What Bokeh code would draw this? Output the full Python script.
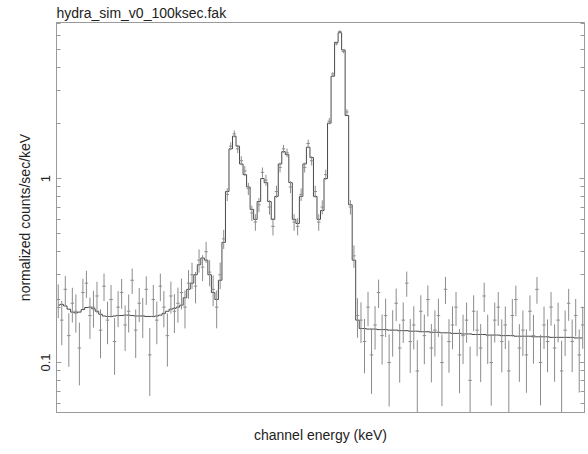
import numpy as np
from bokeh.plotting import figure
from bokeh.models import Range1d, FixedTicker, LogAxis, ColumnDataSource
from bokeh.embed import file_html
from bokeh.resources import INLINE

# ---- data (channel bins, keV) ----
e_start = 0.5
bin_width = 0.007

model_soft = [0.205, 0.207, 0.203, 0.195, 0.188, 0.186, 0.188, 0.194, 0.199, 0.2,
              0.196, 0.19, 0.183, 0.179, 0.178, 0.178, 0.179, 0.18, 0.18, 0.181,
              0.181, 0.18, 0.179, 0.179, 0.179, 0.178, 0.178, 0.178, 0.179, 0.181,
              0.185, 0.19, 0.195, 0.197,
              0.2, 0.205, 0.225, 0.25, 0.27, 0.3, 0.34, 0.37, 0.36, 0.3, 0.24, 0.22, 0.28]
model_lines = [0.45, 0.85, 1.45, 1.7, 1.5, 1.2, 1.05, 0.9, 0.68, 0.6,
               0.75, 1.0, 0.95, 0.75, 0.6, 0.8, 1.2, 1.4, 1.35, 0.95,
               0.6, 0.57, 0.8, 1.2, 1.48, 1.3, 0.8, 0.6, 0.67, 1.0,
               2.0, 3.6, 5.5, 6.2, 5.0, 2.2, 0.72, 0.36, 0.17]
model_hard = [0.153, 0.153, 0.152, 0.152, 0.152, 0.151, 0.151, 0.151, 0.150, 0.150,
              0.150, 0.149, 0.149, 0.149, 0.148, 0.148, 0.148, 0.147, 0.147, 0.147,
              0.146, 0.146, 0.146, 0.145, 0.145, 0.145, 0.144, 0.144, 0.144, 0.143,
              0.143, 0.143, 0.142, 0.142, 0.142, 0.142, 0.141, 0.141, 0.141, 0.141,
              0.140, 0.140, 0.140, 0.140, 0.139, 0.139, 0.139, 0.139, 0.139, 0.138,
              0.138, 0.138, 0.138, 0.138, 0.137, 0.137, 0.137, 0.137, 0.137, 0.137,
              0.137, 0.136, 0.136, 0.136]

data_soft = [0.22, 0.17, 0.25, 0.14, 0.21, 0.19, 0.12, 0.24, 0.27, 0.18,
             0.2, 0.23, 0.15, 0.26, 0.17, 0.22, 0.13, 0.2, 0.24, 0.16,
             0.19, 0.28, 0.15, 0.21, 0.18, 0.25, 0.11, 0.22, 0.17, 0.26,
             0.2, 0.14, 0.23, 0.19,
             0.21, 0.24, 0.2, 0.27, 0.3, 0.26, 0.36, 0.33, 0.4, 0.31, 0.25, 0.2, 0.3]
data_lines = [0.47, 0.82, 1.5, 1.75, 1.45, 1.25, 1.1, 0.88, 0.65, 0.58,
              0.72, 1.08, 0.98, 0.7, 0.55, 0.85, 1.15, 1.45, 1.38, 0.9,
              0.58, 0.55, 0.82, 1.15, 1.55, 1.25, 0.85, 0.58, 0.7, 1.05,
              2.05, 3.7, 5.4, 6.3, 4.9, 2.3, 0.7, 0.38, 0.18]
data_hard = [0.17, 0.13, 0.2, 0.11, 0.16, 0.24, 0.14, 0.18, 0.1, 0.15,
             0.21, 0.12, 0.17, 0.27, 0.13, 0.16, 0.09, 0.19, 0.14, 0.22,
             0.12, 0.15, 0.18, 0.1, 0.25, 0.13, 0.16, 0.2, 0.11, 0.14,
             0.17, 0.08, 0.19, 0.15, 0.12, 0.23, 0.14, 0.1, 0.17, 0.2,
             0.13, 0.16, 0.09, 0.18, 0.22, 0.12, 0.15, 0.11, 0.19, 0.14,
             0.25, 0.1, 0.16, 0.13, 0.2, 0.12, 0.17, 0.09, 0.15, 0.21,
             0.13, 0.18, 0.11, 0.16]

y_major = [0.1, 1]
y_major_labels = ["0.1", "1"]
y_minor = [0.06, 0.07, 0.08, 0.09, 0.2, 0.3, 0.4, 0.5, 0.6, 0.7, 0.8, 0.9,
           2, 3, 4, 5, 6, 7]

title_text = "hydra_sim_v0_100ksec.fak"
x_label = "channel energy (keV)"
y_label = "normalized counts/sec/keV"

# ---- derived ----
model = np.array(model_soft + model_lines + model_hard)
data = np.array(data_soft + data_lines + data_hard)
n = len(data)
x = e_start + bin_width * (np.arange(n) + 0.5)
sig = 0.042 * (model / 0.145) ** 0.25
lo = np.maximum(data - sig, 1e-3)
hi = data + sig
x_end = e_start + bin_width * n

src = ColumnDataSource(dict(x=x, y=data, lo=lo, hi=hi,
                            x0=x - bin_width / 2, x1=x + bin_width / 2, m=model))

FONT = "Liberation Sans"
FRAME = "#9a9a9a"
TXT = "#222222"

p = figure(width=585, height=446, y_axis_type="log",
           x_range=Range1d(e_start, x_end),
           y_range=Range1d(0.0535, 7.05),
           output_backend="svg", toolbar_location=None,
           min_border_left=56, min_border_right=1,
           min_border_top=14, min_border_bottom=34)

p.title.text = title_text
p.title.align = "left"
p.title.text_font = FONT
p.title.text_font_size = "14px"
p.title.text_font_style = "normal"
p.title.text_color = TXT
p.title.standoff = 4

p.grid.visible = False
p.outline_line_color = FRAME
p.background_fill_color = "white"
p.border_fill_color = "white"

# model first, data on top
p.step(x="x", y="m", source=src, mode="center", line_color="#4a4a4a", line_width=1)
p.segment(x0="x", y0="lo", x1="x", y1="hi", source=src, line_color="#8c8c8c", line_width=1)
p.segment(x0="x0", y0="y", x1="x1", y1="y", source=src, line_color="#8c8c8c", line_width=1)

# x axis: no visible ticks (single tick outside the range)
xa = p.xaxis[0]
xa.ticker = FixedTicker(ticks=[x_end * 10], minor_ticks=[])
xa.axis_line_color = FRAME
xa.major_tick_line_color = None
xa.minor_tick_line_color = None
xa.major_label_text_alpha = 0
xa.major_label_text_font_size = "2px"
xa.major_label_standoff = 0
xa.axis_label = x_label
xa.axis_label_text_font = FONT
xa.axis_label_text_font_size = "14px"
xa.axis_label_text_font_style = "normal"
xa.axis_label_text_color = TXT
xa.axis_label_standoff = 14

ya = p.yaxis[0]
ya.ticker = FixedTicker(ticks=y_major, minor_ticks=y_minor)
ya.major_label_overrides = dict(zip(y_major, y_major_labels))
ya.axis_line_color = FRAME
ya.major_tick_line_color = FRAME
ya.minor_tick_line_color = FRAME
ya.major_tick_in = 5
ya.major_tick_out = 0
ya.minor_tick_in = 4
ya.minor_tick_out = 0
ya.major_label_orientation = "vertical"
ya.major_label_text_font = FONT
ya.major_label_text_font_size = "13px"
ya.major_label_text_color = TXT
ya.major_label_standoff = 6
ya.axis_label = y_label
ya.axis_label_text_font = FONT
ya.axis_label_text_font_size = "14px"
ya.axis_label_text_font_style = "normal"
ya.axis_label_text_color = TXT
ya.axis_label_standoff = 6

ra = LogAxis(ticker=FixedTicker(ticks=y_major, minor_ticks=y_minor),
             axis_line_color=FRAME, major_tick_line_color=FRAME,
             minor_tick_line_color=FRAME, major_tick_in=5, major_tick_out=0,
             minor_tick_in=4, minor_tick_out=0,
             major_label_text_alpha=0, major_label_text_font_size="2px",
             major_label_standoff=0)
p.add_layout(ra, "right")

open("out.html", "w").write(file_html(p, INLINE))
